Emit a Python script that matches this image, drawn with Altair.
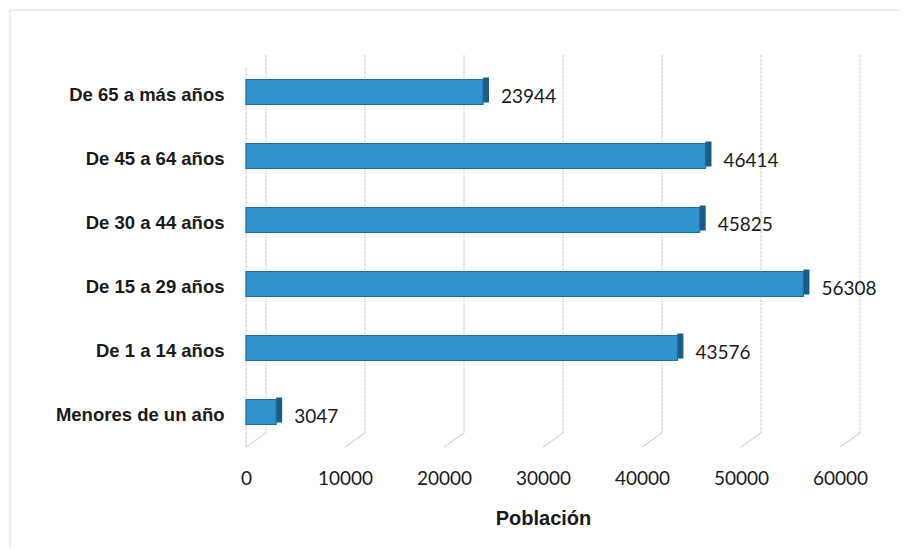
import altair as alt
import pandas as pd

categories = ["De 65 a más años", "De 45 a 64 años", "De 30 a 44 años",
              "De 15 a 29 años", "De 1 a 14 años", "Menores de un año"]
values = [23944, 46414, 45825, 56308, 43576, 3047]
ticks = [0, 10000, 20000, 30000, 40000, 50000, 60000]

df = pd.DataFrame({"cat": categories, "val": values})
grid_df = pd.DataFrame({"t": ticks})

W, H = 594, 384
xscale = alt.Scale(domain=[0, 60000], nice=False, zero=True)
yscale = alt.Scale(domain=categories, paddingInner=0.62, paddingOuter=0.31)

xaxis = alt.Axis(title="Población", values=ticks, format="d", labelFlush=False,
                 labelFont="Lato", labelFontSize=19, labelColor="#1a1a1a",
                 labelPadding=22, ticks=False, domain=False, grid=False,
                 titleFont="Liberation Sans", titleFontSize=20,
                 titleFontWeight="bold", titleColor="#1a1a1a",
                 titlePadding=20)
yaxis = alt.Axis(title=None, labelFont="Liberation Sans",
                 labelFontWeight="bold", labelFontSize=18.5,
                 labelColor="#1a1a1a", labelPadding=22,
                 ticks=False, domain=False, labelLimit=250)

# back-wall gridlines (offset to mimic 3D depth)
grid_v = alt.Chart(grid_df).mark_rule(color="#c4c6dc", strokeWidth=1, strokeDash=[3, 1], xOffset=20).encode(
    x=alt.X("t:Q", scale=xscale, axis=xaxis),
    y=alt.value(-8),
    y2=alt.value(H - 14),
)
grid_d = alt.Chart(grid_df).mark_rule(color="#c4c6dc", strokeWidth=1, x2Offset=20).encode(
    x=alt.X("t:Q", scale=xscale, axis=xaxis),
    x2=alt.X2("t"),
    y=alt.value(H),
    y2=alt.value(H - 14),
)
left_wall = alt.Chart(grid_df).transform_filter("datum.t == 0").mark_rule(
    color="#c4c6dc", strokeWidth=1, strokeDash=[3, 1]).encode(
    x=alt.X("t:Q", scale=xscale, axis=xaxis),
    y=alt.value(5),
    y2=alt.value(H),
)

bars = alt.Chart(df).mark_bar(
    color="#2F93CC", stroke="#1E6E9E", strokeWidth=1.2, size=25, yOffset=-3
).encode(
    y=alt.Y("cat:N", scale=yscale, sort=categories, axis=yaxis),
    x=alt.X("val:Q", scale=xscale, axis=xaxis),
)

side = alt.Chart(df).mark_tick(
    color="#1A5C86", opacity=1, thickness=6, size=25, orient="vertical", xOffset=3, yOffset=-5
).encode(
    y=alt.Y("cat:N", scale=yscale, sort=categories, axis=yaxis),
    x=alt.X("val:Q", scale=xscale, axis=xaxis),
)

labels = alt.Chart(df).mark_text(
    align="left", baseline="middle", dx=18, dy=2, font="Lato", fontSize=19, color="#1a1a1a"
).encode(
    y=alt.Y("cat:N", scale=yscale, sort=categories, axis=yaxis),
    x=alt.X("val:Q", scale=xscale, axis=xaxis),
    text=alt.Text("val:Q", format="d"),
)

border_top = alt.Chart(grid_df).transform_filter("datum.t == 0").mark_rule(
    color="#dddddd", strokeWidth=1).encode(
    x=alt.value(-236), x2=alt.value(W + 62), y=alt.value(-53))
border_left = alt.Chart(grid_df).transform_filter("datum.t == 0").mark_rule(
    color="#dddddd", strokeWidth=1).encode(
    x=alt.value(-236), y=alt.value(-53), y2=alt.value(H + 110))

chart = alt.layer(border_top, border_left, grid_v, grid_d, left_wall, side, bars, labels).properties(
    width=W, height=H, background="white",
    autosize=alt.AutoSizeParams(type="none"),
    padding={"left": 238, "top": 55, "right": 60, "bottom": 100},
).configure_view(strokeWidth=0, stroke=None)

chart.save("out.html", embed_options={"renderer": "svg", "actions": False})
